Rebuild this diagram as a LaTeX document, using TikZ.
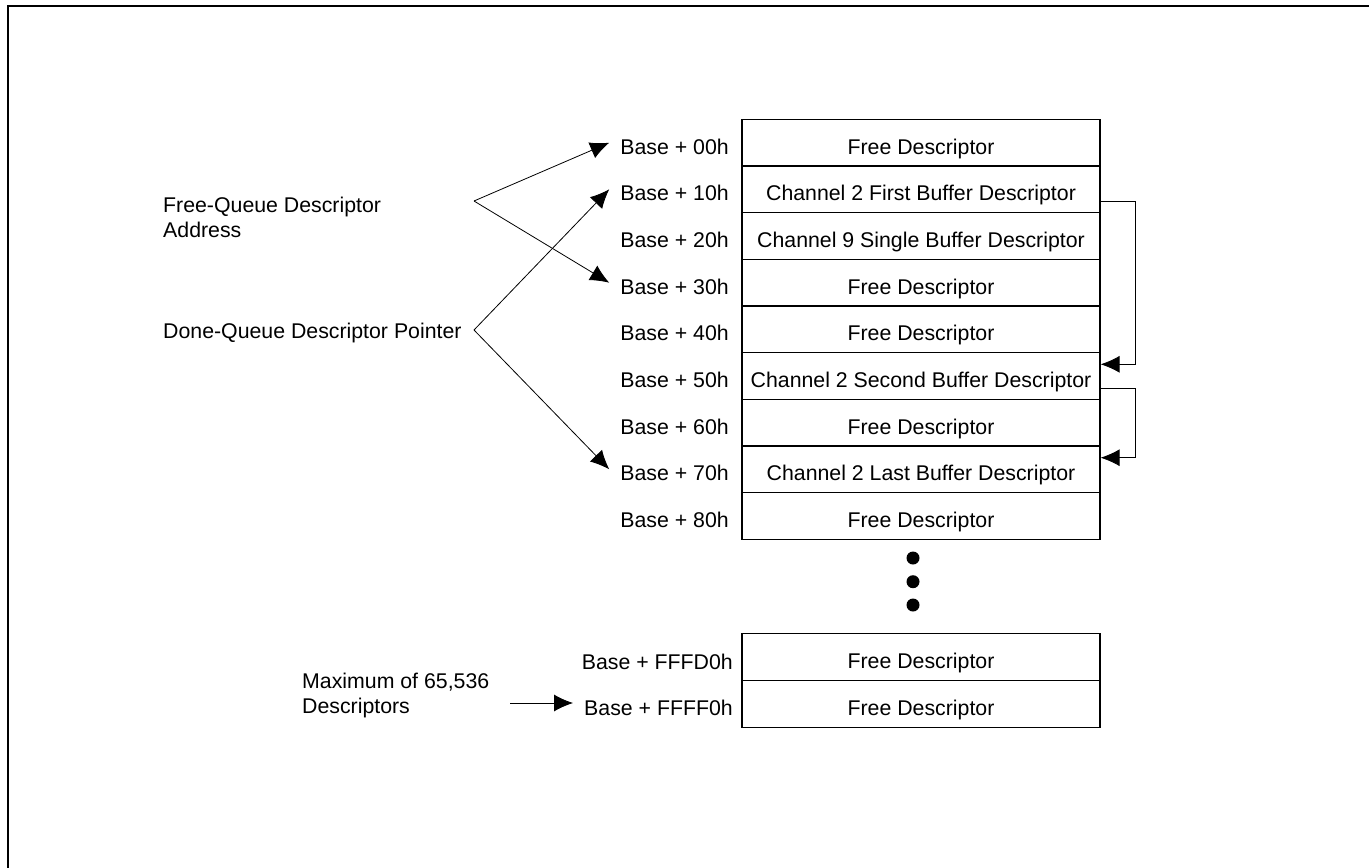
\documentclass[tikz,border=0pt]{standalone}
\usepackage{fontspec}
\setmainfont{Liberation Sans}
\usepackage{tikz}
\usetikzlibrary{calc}
\usetikzlibrary{arrows.meta}
\usetikzlibrary{positioning}
\tikzset{>={Latex[length=19pt, width=17pt]}}
\tikzstyle{desc} = [rectangle, draw=black, line width=1.2pt, minimum width=358pt, minimum height=46.7pt, inner sep=0pt, text height=23pt, text depth=0pt]
\tikzstyle{addr} = [anchor=east, inner sep=11pt, text height=23pt, text depth=0pt]
\tikzstyle{note} = [anchor=west, align=left, inner sep=0pt]
\tikzstyle{ptr} = [->, line width=0.8pt]
\tikzstyle{dot} = [circle, fill=black, minimum size=13pt, inner sep=0pt]

\begin{document}
\begin{tikzpicture}[x=1pt, y=-1pt, every node/.style={font=\fontsize{21.3}{25}\selectfont}]
\useasboundingbox (0, 0) rectangle (1369, 868);
\draw [line width=2.7pt] (8, 868) -- (8, 6) -- (1369, 6);
% descriptor table
\node [desc] (d00) at (921, 142.7) {Free Descriptor};
\node [desc] (d10) at (921, 189.3) {Channel 2 First Buffer Descriptor};
\node [desc] (d20) at (921, 236) {Channel 9 Single Buffer Descriptor};
\node [desc] (d30) at (921, 282.7) {Free Descriptor};
\node [desc] (d40) at (921, 329.3) {Free Descriptor};
\node [desc] (d50) at (921, 376) {Channel 2 Second Buffer Descriptor};
\node [desc] (d60) at (921, 422.7) {Free Descriptor};
\node [desc] (d70) at (921, 469.3) {Channel 2 Last Buffer Descriptor};
\node [desc] (d80) at (921, 516) {Free Descriptor};
\node [desc] (dFFFD0) at (921, 657) {Free Descriptor};
\node [desc] (dFFFF0) at (921, 704) {Free Descriptor};
% addresses
\node [addr] (b00) at (740, 142.7) {Base + 00h};
\node [addr] (b10) at (740, 189.3) {Base + 10h};
\node [addr] (b20) at (740, 236) {Base + 20h};
\node [addr] (b30) at (740, 282.7) {Base + 30h};
\node [addr] (b40) at (740, 329.3) {Base + 40h};
\node [addr] (b50) at (740, 376) {Base + 50h};
\node [addr] (b60) at (740, 422.7) {Base + 60h};
\node [addr] (b70) at (740, 469.3) {Base + 70h};
\node [addr] (b80) at (740, 516) {Base + 80h};
\node [addr] (bFFFD0) at (744, 658) {Base + FFFD0h};
\node [addr] (bFFFF0) at (744, 704) {Base + FFFF0h};
% dots
\node [dot] (dot1) at (913, 558) {};
\node [dot] (dot2) at (913, 581.7) {};
\node [dot] (dot3) at (913, 605) {};
% pointers
\node [note] (FQ) at (163, 217.5) {Free-Queue Descriptor\\Address};
\node [note] (DQ) at (163, 333) {Done-Queue Descriptor Pointer};
\node [note] (MAX) at (302, 695) {Maximum of 65,536\\ Descriptors};
\coordinate (fq) at (474, 201);
\coordinate (dq) at (474, 330);
\coordinate (mx) at (510, 703);
\draw [ptr] (fq) to (b00.west);
\draw [ptr] (fq) to (b30.west);
\draw [ptr] (dq) to (b10.west);
\draw [ptr] (dq) to (b70.west);
\draw [ptr] (mx) to (bFFFF0.west |- mx);
% chain of channel 2
\draw [ptr] ($(d10.east)+(0, 12.4)$) -- ++(35, 0) |- ($(d50.east)+(0, -11.7)$);
\draw [ptr] ($(d50.east)+(0, 12)$) -- ++(35, 0) |- ($(d70.east)+(0, -11.6)$);
\end{tikzpicture}
\end{document}
